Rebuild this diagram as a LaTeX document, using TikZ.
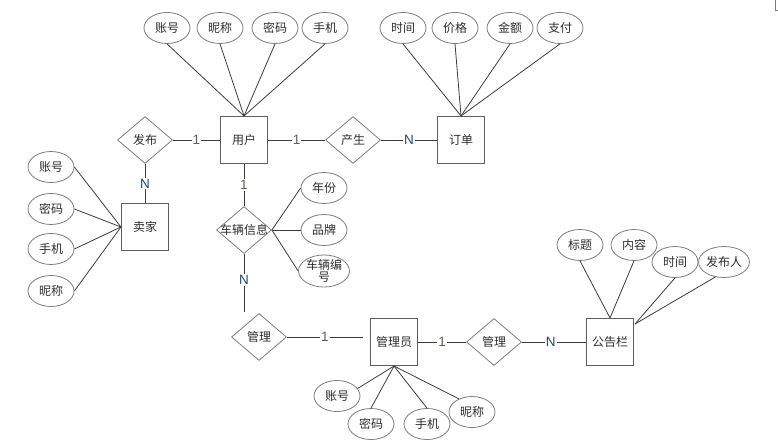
\documentclass[tikz,border=0pt]{standalone}
\usepackage{fontspec}
\setmainfont{Liberation Sans}
\newfontfamily\cjk{Noto Sans CJK SC}
\usetikzlibrary{shapes.geometric}
\definecolor{linegray}{RGB}{60,60,60}
\definecolor{boxgray}{RGB}{95,95,95}
\definecolor{ellgray}{RGB}{125,125,125}
\definecolor{txtgray}{RGB}{45,45,45}
\definecolor{onecol}{RGB}{100,92,85}
\definecolor{manycol}{RGB}{31,73,125}
\newcommand{\zh}{\cjk\fontsize{12}{14}\selectfont}

\begin{document}
\begin{tikzpicture}[x=1pt, y=-1pt,
    entity/.style={draw=boxgray, line width=1.1pt, minimum width=47pt, minimum height=47pt, inner sep=0pt, text=txtgray, font=\zh},
    attr/.style={ellipse, draw=ellgray, line width=0.8pt, minimum width=46pt, minimum height=31pt, inner sep=0pt, text=txtgray, font=\zh},
    rel/.style={diamond, draw=ellgray, line width=0.8pt, minimum width=55pt, minimum height=47pt, inner sep=0pt},
    every label/.style={text=txtgray, font=\zh},
    link/.style={draw=linegray, line width=0.8pt},
    one/.style={fill=white, inner sep=1pt, text=onecol, font=\fontsize{13.5}{15}\selectfont},
    many/.style={fill=white, inner sep=1pt, text=manycol, font=\fontsize{13.5}{15}\selectfont}]
    \useasboundingbox (0,0) rectangle (778,446);

    % entities
    \node[entity] (user) at (244,140) {用户};
    \node[entity] (order) at (461,140) {订单};
    \node[entity] (seller) at (145,227) {卖家};
    \node[entity] (admin) at (394,342) {管理员};
    \node[entity] (board) at (610,342) {公告栏};

    % relations
    \node[rel, label=center:发布] (pub) at (145,140) {};
    \node[rel, label=center:产生] (make) at (353,140) {};
    \node[rel, label=center:车辆信息] (info) at (244,230) {};
    \node[rel, label=center:管理] (mgrA) at (259,337) {};
    \node[rel, label=center:管理] (mgrB) at (494,342) {};

    % user attributes
    \node[attr] (uacc) at (167,28) {账号};
    \node[attr] (unick) at (220,28) {昵称};
    \node[attr] (upwd) at (275,28) {密码};
    \node[attr] (uphone) at (325,28) {手机};
    \foreach \a in {uacc,unick,upwd,uphone}
        \draw[link] (\a.south) -- (user.north);

    % order attributes
    \node[attr] (otime) at (403,28) {时间};
    \node[attr] (oprice) at (455,28) {价格};
    \node[attr] (osum) at (510,28) {金额};
    \node[attr] (opay) at (560,28) {支付};
    \foreach \a in {otime,oprice,osum,opay}
        \draw[link] (\a.south) -- (order.north);

    % seller attributes
    \node[attr] (sacc) at (51,167) {账号};
    \node[attr] (spwd) at (51,209) {密码};
    \node[attr] (sphone) at (51,249) {手机};
    \node[attr] (snick) at (51,291) {昵称};
    \foreach \a in {sacc,spwd,sphone,snick}
        \draw[link] (\a.east) -- (seller.west);

    % vehicle attributes
    \node[attr] (vyear) at (324,188) {年份};
    \node[attr] (vbrand) at (324,230) {品牌};
    \node[attr, align=center, font=\cjk\fontsize{12}{10}\selectfont] (vno) at (324,271) {车辆编\\号};
    \foreach \a in {vyear,vbrand,vno}
        \draw[link] (info.east) -- (\a.west);

    % admin attributes
    \node[attr] (aacc) at (337,396) {账号};
    \node[attr] (apwd) at (371,424) {密码};
    \node[attr] (aphone) at (427,424) {手机};
    \node[attr] (anick) at (472,412) {昵称};
    \draw[link] (admin.south) -- (aacc.20);
    \draw[link] (admin.south) -- (apwd.north);
    \draw[link] (admin.south) -- (aphone.north);
    \draw[link] (admin.south) -- (anick.135);

    % board attributes
    \node[attr] (btitle) at (580,245) {标题};
    \node[attr] (btext) at (634,245) {内容};
    \node[attr] (btime) at (675,262) {时间};
    \node[attr] (bwho) at (724,262) {发布人};
    \coordinate (bcorner) at (635,324);
    \draw[link] (btitle.south) -- (board.north);
    \draw[link] (btext.south) -- (board.north);
    \draw[link] (btime.south) -- (bcorner);
    \draw[link] (bwho.-120) -- (bcorner);

    % relation lines
    \coordinate (infoend) at (244,312);
    \coordinate (mgrend) at (363,337);
    \draw[link] (pub.east) -- node[one]{1} (user.west);
    \draw[link] (pub.south) -- node[many]{N} (seller.north);
    \draw[link] (user.east) -- node[one]{1} (make.west);
    \draw[link] (make.east) -- node[many]{N} (order.west);
    \draw[link] (user.south) -- node[one]{1} (info.north);
    \draw[link] (info.south) -- node[many, pos=0.45]{N} (infoend);
    \draw[link] (mgrA.east) -- node[one]{1} (mgrend);
    \draw[link] (admin.east) -- node[one]{1} (mgrB.west);
    \draw[link] (mgrB.east) -- node[many, pos=0.45]{N} (board.west);

    % page corner mark
    \draw[ellgray, line width=0.8pt] (775.5,0) -- (775.5,10) -- (778,10);
\end{tikzpicture}
\end{document}
